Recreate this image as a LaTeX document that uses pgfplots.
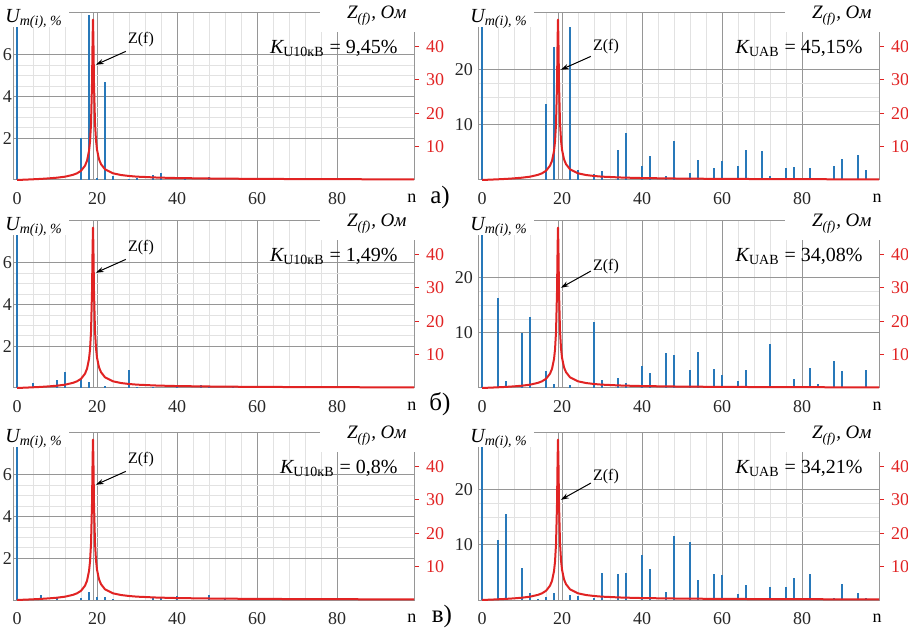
\documentclass[border=0pt]{standalone}
\usepackage{fontspec}
\setmainfont{Liberation Serif}
\usepackage{pgfplots}
\pgfplotsset{compat=1.18}
\usepackage{pgfplotstable}
\usetikzlibrary{arrows.meta}

\definecolor{barblue}{RGB}{40,120,185}
\definecolor{zred}{RGB}{225,35,35}
\definecolor{gmaj}{RGB}{150,150,150}
\definecolor{gmin}{RGB}{226,226,226}

\pgfplotstableread{
n z
0 0
2 0.10
4 0.21
6 0.33
8 0.49
10 0.69
12 0.99
14 1.54
15 2.0
16 2.75
17 4.27
17.5 5.74
18 8.64
18.25 11.45
18.5 16.7
18.75 28.7
18.9 42.4
19 48.0
19.1 42.4
19.25 29.0
19.5 17.1
19.75 11.9
20 9.09
20.5 6.2
21 4.74
22 3.2
24 2.0
26 1.49
28 1.2
30 1.0
35 0.73
40 0.58
50 0.42
60 0.33
70 0.28
80 0.24
90 0.21
99.25 0.19
}\zcurve

\pgfplotstableread{
n u
0 100
16 2.03
18 7.9
20 0.08
22 4.7
24 0.19
28 0.05
30 0.1
34 0.25
36 0.35
42 0.08
48 0.15
}\barsA

\pgfplotstableread{
n u
0 100
16 13.8
18 24.1
22 27.8
24 1.8
28 1.0
30 1.6
34 5.5
36 8.6
40 2.5
42 4.4
46 0.7
48 7.1
52 1.2
54 3.6
58 2.1
60 3.5
64 2.5
66 5.4
70 5.2
72 0.7
76 2.1
78 2.4
82 2.2
88 2.5
90 3.8
94 4.5
96 1.9
}\barsB

\pgfplotstableread{
n u
0 100
4 0.22
10 0.4
12 0.78
16 0.48
18 0.27
22 0.1
28 0.84
30 0.05
34 0.05
40 0.05
46 0.12
48 0.1
54 0.08
72 0.05
}\barsC

\pgfplotstableread{
n u
0 100
4 16.3
6 1.3
10 9.9
12 12.8
16 3.1
18 0.7
22 0.6
28 11.9
30 1.45
34 1.9
36 0.9
40 4.0
42 2.8
46 6.3
48 6.0
52 3.25
54 6.6
58 3.5
60 2.35
64 1.2
66 3.25
72 8.0
78 1.6
82 3.6
84 0.7
88 4.9
90 3.0
96 3.25
}\barsD

\pgfplotstableread{
n u
0 100
6 0.24
10 0.08
16 0.08
18 0.37
20 0.16
22 0.12
24 0.05
34 0.08
36 0.08
40 0.2
48 0.24
52 0.1
}\barsE

\pgfplotstableread{
n u
0 100
4 10.8
6 15.6
10 5.8
12 1.2
14 0.2
16 0.6
18 1.2
22 0.9
24 0.8
28 0.3
30 4.9
34 4.8
36 4.9
40 8.2
42 5.7
46 1.4
48 11.7
52 10.5
54 3.6
58 4.8
60 4.6
64 1.1
66 2.7
72 2.4
76 2.3
78 4.0
82 4.8
84 0.3
88 0.3
90 2.9
94 1.3
96 0.4
}\barsF

\pgfplotsset{
  basepanel/.style={scale only axis, width=200.5pt, height=83.5pt,
    xmin=-1, xmax=99.25, ymin=0, anchor=south west,
    /pgf/number format/assume math mode=true},
  upanel/.style={basepanel, xtick={0,20,40,60,80},
    minor x tick num=4, minor y tick num=3, grid=both,
    major grid style={gmaj, line width=0.4pt},
    minor grid style={gmin, line width=0.35pt},
    axis line style={gmaj, line width=0.5pt}, tick style={draw=none},
    tick label style={font=\fontsize{9}{10}\selectfont, text=black!85},
    xticklabel style={yshift=-2.5pt}},
  zpanel/.style={basepanel, ymax=50, axis y line*=right, hide x axis, clip=false,
    ytick={10,20,30,40}, axis line style={gmaj, line width=0.5pt},
    ytick style={zred, line width=0.5pt}, tick align=outside, major tick length=2.5pt,
    yticklabel style={font=\fontsize{9}{10}\selectfont, text=zred}},
}

\newcommand\panel[9]{%
  \begin{axis}[upanel, at={(#1,#2)}, ymax=#3, #4]
    \addplot[gmaj, line width=0.4pt] coordinates {(19,0) (19,#3)};
    \addplot[ycomb, barblue, line width=0.95pt] table {#5};
  \end{axis}
  \begin{axis}[zpanel, at={(#1,#2)}]
    \addplot[zred, line width=1pt, line join=round] table {\zcurve};
    \fill[white] ([xshift=-7pt,yshift=4pt]rel axis cs:0,1) rectangle ([xshift=28pt,yshift=-7pt]rel axis cs:0,1);
    \fill[white] ([xshift=-47pt,yshift=4pt]rel axis cs:1,1) rectangle ([xshift=4pt,yshift=-9.5pt]rel axis cs:1,1);
    \node[anchor=base west, inner sep=0pt, font=\fontsize{10}{12}\selectfont] at ([xshift=-4pt,yshift=-5pt]rel axis cs:0,1) {\itshape U\textsubscript{m(i), \%}};
    \node[anchor=base east, inner sep=0pt, font=\fontsize{9.5}{11}\selectfont] at ([xshift=-3.5pt,yshift=-3pt]rel axis cs:1,1) {\itshape Z\textsubscript{(f)}, Ом};
    \node[anchor=east, inner sep=0pt, font=\fontsize{10}{12}\selectfont] at (rel axis cs:0.96,0.785) {#6};
    \node[font=\fontsize{8}{9}\selectfont] at (axis cs:31,#7) {Z(f)};
    \draw[-{Stealth[length=4pt,width=2.6pt]}, line width=0.5pt] (axis cs:27.2,#8) -- (axis cs:19.7,#9);
    \node[font=\fontsize{9}{10}\selectfont] at ([yshift=-9pt]rel axis cs:0.995,0) {n};
  \end{axis}}

\begin{document}
\begin{tikzpicture}
\useasboundingbox (0,0) rectangle (454pt,315pt);
\panel{6.5pt}{225pt}{8}{ytick={2,4,6}, yticklabel style={xshift=3pt}}{\barsA}{{\itshape K}\textsubscript{U10кВ} = 9,45\%}{42}{38.5}{34.5}
\panel{239pt}{225pt}{30.3}{ytick={10,20}, yticklabel style={xshift=1pt}}{\barsB}{{\itshape K}\textsubscript{UAB} = 45,15\%}{40}{37}{33}
\panel{6.5pt}{121pt}{8}{ytick={2,4,6}, yticklabel style={xshift=3pt}}{\barsC}{{\itshape K}\textsubscript{U10кВ} = 1,49\%}{42}{38.5}{34.5}
\panel{239pt}{121pt}{30.3}{ytick={10,20}, yticklabel style={xshift=1pt}}{\barsD}{{\itshape K}\textsubscript{UAB} = 34,08\%}{36.5}{35}{30}
\panel{6.5pt}{15pt}{8}{ytick={2,4,6}, yticklabel style={xshift=3pt}}{\barsE}{{\itshape K}\textsubscript{U10кВ} = 0,8\%}{42}{38.5}{34.5}
\panel{239pt}{15pt}{30.3}{ytick={10,20}, yticklabel style={xshift=1pt}}{\barsF}{{\itshape K}\textsubscript{UAB} = 34,21\%}{37}{35}{30}
\node[font=\fontsize{12.5}{14}\selectfont] at (220pt,216.5pt) {а)};
\node[font=\fontsize{12.5}{14}\selectfont] at (220pt,113pt) {б)};
\node[font=\fontsize{12.5}{14}\selectfont] at (221pt,7pt) {в)};
\end{tikzpicture}
\end{document}
